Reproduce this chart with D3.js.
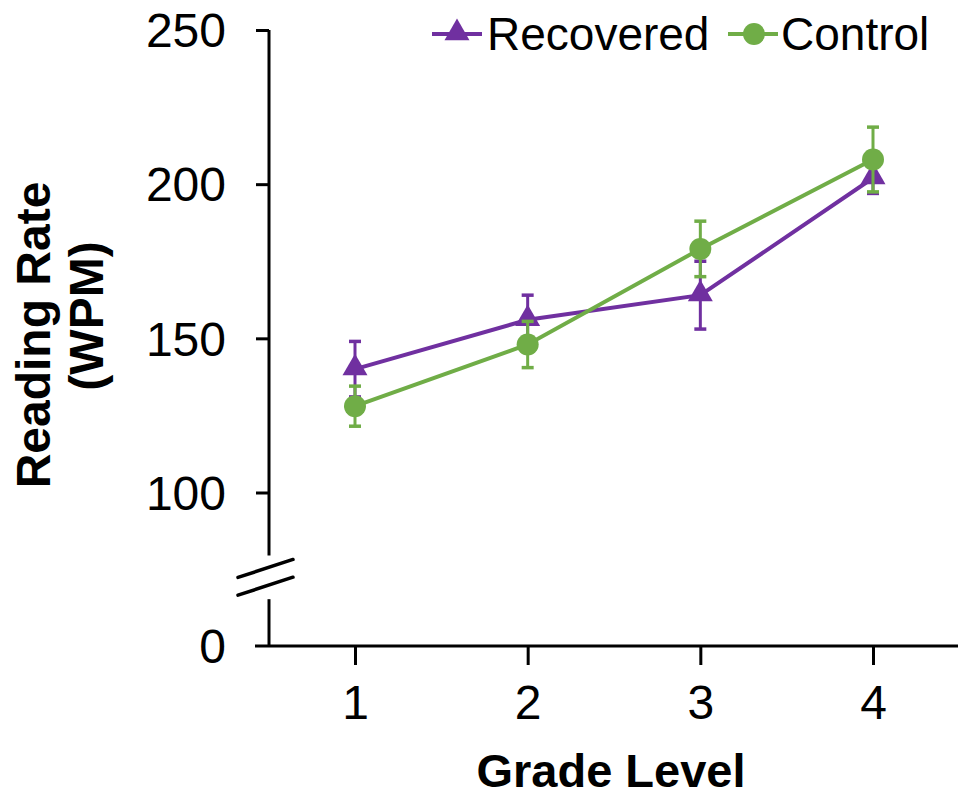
<!DOCTYPE html>
<html>
<head>
<meta charset="utf-8">
<script src="https://cdn.jsdelivr.net/npm/d3@7"></script>
<style>
  html, body { margin: 0; padding: 0; background: #fff; }
  svg { display: block; }
  text { font-family: "Liberation Sans", Arial, sans-serif; fill: #000; }
</style>
</head>
<body>
<svg id="chart" width="958" height="798"></svg>
<script>
// ---- Data ----
const grades = [1, 2, 3, 4];
const gradeLabels = ["1", "2", "3", "4"];
const recovered = [140, 156, 164, 202];
const recoveredErr = [9, 8, 11, 5];
const control = [128, 148, 179, 208];
const controlErr = [6.5, 7.5, 9, 10.5];
const yTicks = [0, 100, 150, 200, 250];
const seriesNames = ["Recovered", "Control"];

// ---- Styles ----
const purple = "#7030A0";
const green = "#70AD47";

const svg = d3.select("#chart");

const axisX = 269, axisY = 646;
const x = d3.scaleLinear().domain([1, 4]).range([355, 873]);
// broken axis: 0 sits one 50-unit step below 100
const y = d3.scaleLinear().domain([0, 100, 250]).range([646, 492.5, 30]);

// ---- Y axis ----
const yAxisG = svg.append("g").attr("transform", `translate(${axisX},0)`);
const yAxis = d3.axisLeft(y).tickValues(yTicks).tickSize(13).tickPadding(30)
  .tickFormat(d3.format("d"));
yAxisG.call(yAxis);
yAxisG.select(".domain").remove();
yAxisG.selectAll(".tick line").attr("stroke", "#000").attr("stroke-width", 3);
yAxisG.selectAll(".tick text").attr("font-size", 48).attr("fill", "#000")
  .attr("font-family", "Liberation Sans, Arial, sans-serif").attr("dy", "0.35em");
yAxisG.selectAll(".tick").filter(d => d === 0).select("line").remove();

// axis segments with break
const breakLowV = 30.5, breakHighV = 59;
yAxisG.append("line").attr("x1", 0).attr("x2", 0)
  .attr("y1", y(250)).attr("y2", y(breakHighV))
  .attr("stroke", "#000").attr("stroke-width", 3);
yAxisG.append("line").attr("x1", 0).attr("x2", 0)
  .attr("y1", y(breakLowV)).attr("y2", y(0))
  .attr("stroke", "#000").attr("stroke-width", 3);
const bm = [y(breakHighV) + 13, y(breakLowV) - 13];
bm.forEach(cy => {
  yAxisG.append("line")
    .attr("x1", -31).attr("y1", cy + 9)
    .attr("x2", 24).attr("y2", cy - 9)
    .attr("stroke", "#000").attr("stroke-width", 3.5).attr("stroke-linecap", "round");
});

// ---- X axis ----
const xAxisG = svg.append("g").attr("transform", `translate(0,${axisY})`);
const xAxis = d3.axisBottom(x).tickValues(grades).tickSize(19).tickPadding(20)
  .tickFormat((d, i) => gradeLabels[i]);
xAxisG.call(xAxis);
xAxisG.select(".domain").remove();
xAxisG.append("line").attr("x1", 255).attr("x2", 958).attr("y1", 0).attr("y2", 0)
  .attr("stroke", "#000").attr("stroke-width", 3);
xAxisG.selectAll(".tick line").attr("stroke", "#000").attr("stroke-width", 3);
xAxisG.selectAll(".tick text").attr("font-size", 48).attr("fill", "#000")
  .attr("font-family", "Liberation Sans, Arial, sans-serif");

// ---- Axis titles ----
svg.append("text")
  .attr("transform", "translate(50,335) rotate(-90)")
  .attr("text-anchor", "middle").attr("font-size", 48).attr("font-weight", "bold")
  .text("Reading Rate");
svg.append("text")
  .attr("transform", "translate(103,316) rotate(-90)")
  .attr("text-anchor", "middle").attr("font-size", 48).attr("font-weight", "bold")
  .text("(WPM)");
svg.append("text")
  .attr("x", 611).attr("y", 787)
  .attr("text-anchor", "middle").attr("font-size", 47).attr("font-weight", "bold")
  .text("Grade Level");

// ---- Series ----
const triangle = d3.symbol().type(d3.symbolTriangle).size(270);

function drawSeries(vals, errs, color, marker) {
  const g = svg.append("g");
  const pts = grades.map((gr, i) => ({ gr, v: vals[i], e: errs[i] }));
  pts.forEach(p => {
    g.append("line").attr("x1", x(p.gr)).attr("x2", x(p.gr))
      .attr("y1", y(p.v + p.e)).attr("y2", y(p.v - p.e))
      .attr("stroke", color).attr("stroke-width", 3);
    [p.v + p.e, p.v - p.e].forEach(c => {
      g.append("line").attr("x1", x(p.gr) - 6).attr("x2", x(p.gr) + 6)
        .attr("y1", y(c)).attr("y2", y(c))
        .attr("stroke", color).attr("stroke-width", 3.5);
    });
  });
  g.append("path").datum(pts)
    .attr("d", d3.line().x(d => x(d.gr)).y(d => y(d.v)))
    .attr("fill", "none").attr("stroke", color).attr("stroke-width", 4);
  pts.forEach(p => {
    if (marker === "triangle") {
      g.append("path").attr("d", triangle)
        .attr("transform", `translate(${x(p.gr)},${y(p.v) - 1})`)
        .attr("fill", color);
    } else {
      g.append("circle").attr("cx", x(p.gr)).attr("cy", y(p.v)).attr("r", 11)
        .attr("fill", color);
    }
  });
}
drawSeries(recovered, recoveredErr, purple, "triangle");
drawSeries(control, controlErr, green, "circle");

// ---- Legend ----
const legend = svg.append("g");
const legItems = [
  { name: seriesNames[0], color: purple, marker: "triangle", x0: 432, tx: 487 },
  { name: seriesNames[1], color: green, marker: "circle", x0: 728, tx: 781 }
];
legItems.forEach(it => {
  const ly = 34;
  legend.append("line").attr("x1", it.x0).attr("x2", it.x0 + 50)
    .attr("y1", ly).attr("y2", ly).attr("stroke", it.color).attr("stroke-width", 4);
  if (it.marker === "triangle") {
    legend.append("path").attr("d", triangle)
      .attr("transform", `translate(${it.x0 + 25},${ly - 1})`).attr("fill", it.color);
  } else {
    legend.append("circle").attr("cx", it.x0 + 26).attr("cy", ly).attr("r", 11)
      .attr("fill", it.color);
  }
  legend.append("text").attr("x", it.tx).attr("y", 50)
    .attr("font-size", 46).text(it.name);
});
</script>
</body>
</html>
